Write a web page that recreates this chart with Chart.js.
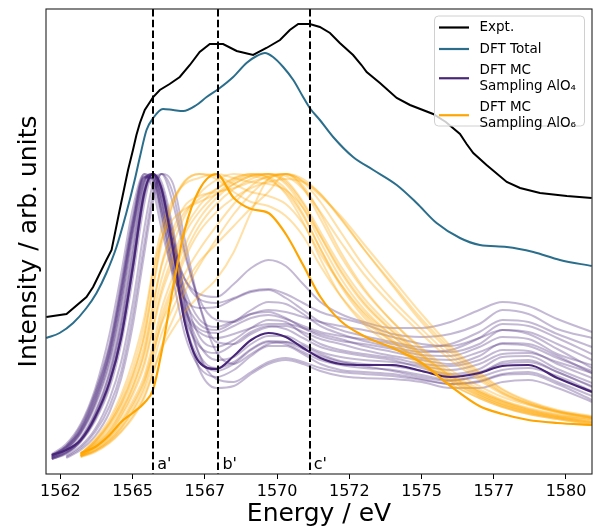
<!DOCTYPE html>
<html><head><meta charset="utf-8">
<script src="https://cdn.jsdelivr.net/npm/chart.js@4.4.1/dist/chart.umd.min.js"></script>
<style>html,body{margin:0;padding:0;background:#fff;}canvas{display:block;}</style>
</head><body>
<canvas id="c" width="594" height="529"></canvas>
<script>
// ---------- data ----------
const TICK_VALUES = [1562.5, 1565, 1567.5, 1570, 1572.5, 1575, 1577.5, 1580];
const TICK_LABELS = ['1562', '1565', '1567', '1570', '1572', '1575', '1577', '1580'];
const MARK_E = [1565.71, 1567.97, 1571.13];
const MARK_LABELS = ["a'", "b'", "c'"];

const EXPT_E = [1562.01,1562.71,1563.40,1563.63,1564.09,1564.27,1564.55,1564.84,1565.01,1565.13,1565.25,1565.42,1565.71,1565.94,1566.28,1566.63,1566.98,1567.32,1567.67,1568.13,1568.60,1569.17,1569.63,1570.10,1570.44,1570.73,1571.13,1571.48,1571.83,1572.17,1572.63,1572.92,1573.10,1573.56,1574.14,1574.60,1575.40,1575.84,1576.33,1576.56,1576.79,1577.25,1577.95,1578.41,1579.10,1580.03,1580.89];
const EXPT_I = [1.57,1.60,1.77,1.87,2.14,2.24,2.64,3.04,3.24,3.39,3.51,3.64,3.77,3.84,3.90,3.97,4.09,4.22,4.30,4.30,4.23,4.19,4.26,4.34,4.44,4.50,4.50,4.47,4.41,4.31,4.19,4.09,4.02,3.91,3.76,3.69,3.60,3.52,3.40,3.30,3.21,3.09,2.92,2.86,2.81,2.78,2.76];

const DFT_E = [1562.01,1562.47,1562.94,1563.40,1563.75,1564.09,1564.44,1564.78,1565.07,1565.25,1565.48,1565.71,1566.05,1566.40,1566.75,1567.21,1567.56,1567.97,1568.48,1568.94,1569.29,1569.58,1569.86,1570.21,1570.56,1570.90,1571.13,1571.48,1571.94,1572.63,1573.33,1574.14,1574.83,1575.52,1576.33,1577.02,1577.95,1578.87,1579.79,1580.89];
const DFT_I = [1.36,1.41,1.51,1.66,1.81,2.01,2.27,2.61,2.94,3.17,3.44,3.56,3.65,3.64,3.63,3.69,3.77,3.85,3.97,4.11,4.18,4.21,4.17,4.07,3.94,3.77,3.66,3.54,3.37,3.17,3.04,2.89,2.71,2.51,2.36,2.29,2.27,2.22,2.14,2.08];

// energy grid shared by the MC sampling spectra
const GRID_E = [1562.2,1562.7,1563.2,1563.7,1564.2,1564.6,1565.0,1565.4,1565.7,1566.0,1566.4,1566.8,1567.3,1567.9,1568.5,1569.1,1569.7,1570.3,1570.9,1571.5,1572.2,1573.0,1574.0,1575.0,1576.0,1577.0,1577.8,1578.7,1579.7,1580.9];

const ALO4_MAIN = [0.19,0.24,0.34,0.57,0.92,1.36,2.06,2.81,3.00,2.85,2.24,1.52,1.12,1.05,1.18,1.34,1.41,1.37,1.26,1.16,1.10,1.09,1.09,1.03,0.97,1.01,1.08,1.09,0.96,0.82];
const ALO4_SAMPLES = [
 [0.18,0.28,0.48,0.82,1.30,1.90,2.55,2.98,2.95,2.65,2.25,1.95,1.80,1.77,1.90,2.06,2.14,2.08,1.90,1.72,1.60,1.52,1.46,1.46,1.52,1.64,1.72,1.68,1.55,1.42],
 [0.17,0.25,0.42,0.72,1.18,1.75,2.45,2.95,3.00,2.75,2.30,1.95,1.75,1.71,1.76,1.83,1.85,1.80,1.71,1.62,1.56,1.50,1.40,1.37,1.40,1.50,1.64,1.60,1.45,1.36],
 [0.20,0.30,0.50,0.85,1.40,2.00,2.65,3.00,2.85,2.45,2.00,1.75,1.66,1.67,1.75,1.82,1.84,1.76,1.64,1.52,1.44,1.38,1.32,1.27,1.30,1.42,1.54,1.52,1.40,1.27],
 [null,0.18,0.28,0.45,0.75,1.12,1.70,2.45,2.90,3.00,2.70,2.20,1.75,1.54,1.52,1.60,1.64,1.62,1.57,1.52,1.48,1.44,1.37,1.30,1.28,1.36,1.44,1.42,1.30,1.14],
 [0.16,0.22,0.35,0.60,1.00,1.50,2.20,2.88,3.00,2.80,2.35,1.85,1.55,1.47,1.53,1.60,1.62,1.56,1.46,1.38,1.33,1.30,1.25,1.19,1.18,1.27,1.37,1.35,1.20,1.09],
 [0.19,0.27,0.45,0.78,1.25,1.85,2.50,2.97,2.95,2.60,2.05,1.65,1.45,1.41,1.48,1.56,1.59,1.55,1.48,1.42,1.38,1.35,1.30,1.24,1.22,1.30,1.44,1.40,1.25,1.06],
 [null,0.17,0.26,0.42,0.68,1.02,1.58,2.30,2.80,3.00,2.80,2.25,1.70,1.32,1.30,1.40,1.47,1.48,1.42,1.35,1.30,1.24,1.18,1.14,1.10,1.18,1.31,1.30,1.18,1.01],
 [0.15,0.21,0.33,0.55,0.90,1.38,2.05,2.78,3.00,2.88,2.40,1.80,1.38,1.27,1.34,1.46,1.54,1.52,1.40,1.30,1.24,1.20,1.16,1.10,1.08,1.14,1.24,1.23,1.10,0.96],
 [0.18,0.26,0.43,0.74,1.20,1.80,2.48,2.97,2.97,2.68,2.10,1.58,1.28,1.21,1.30,1.42,1.48,1.45,1.36,1.27,1.22,1.18,1.14,1.06,1.00,1.05,1.17,1.18,1.05,0.91],
 [0.16,0.23,0.36,0.62,1.02,1.55,2.25,2.90,3.00,2.82,2.30,1.70,1.30,1.14,1.17,1.30,1.38,1.38,1.30,1.22,1.17,1.14,1.12,1.08,1.04,1.10,1.20,1.21,1.12,1.01],
 [null,0.16,0.24,0.38,0.62,0.95,1.48,2.20,2.72,3.00,2.90,2.35,1.70,1.22,1.10,1.20,1.30,1.32,1.28,1.20,1.13,1.10,1.08,1.03,0.98,1.02,1.10,1.12,1.02,0.87],
 [0.17,0.24,0.40,0.68,1.10,1.65,2.35,2.93,3.00,2.75,2.15,1.52,1.15,1.03,1.10,1.24,1.32,1.30,1.22,1.14,1.09,1.06,1.04,0.99,0.94,0.97,1.04,1.06,0.98,0.83],
 [0.19,0.28,0.46,0.80,1.28,1.88,2.55,3.00,2.92,2.55,1.95,1.40,1.07,0.97,1.04,1.18,1.28,1.28,1.20,1.10,1.04,1.02,1.00,0.95,0.90,0.93,1.00,1.02,0.92,0.78],
 [0.15,0.20,0.32,0.53,0.86,1.30,1.95,2.70,3.00,2.92,2.45,1.75,1.20,0.95,0.92,1.02,1.12,1.16,1.12,1.06,1.02,1.00,0.98,0.94,0.90,0.92,0.99,1.00,0.90,0.74],
 [0.16,0.22,0.34,0.58,0.95,1.45,2.12,2.82,3.00,2.85,2.30,1.58,1.05,0.86,0.88,1.00,1.10,1.14,1.10,1.03,0.98,0.96,0.95,0.92,0.86,0.86,0.92,0.94,0.86,0.72],
 [0.18,0.27,0.44,0.76,1.22,1.80,2.45,2.96,2.96,2.62,2.05,1.62,1.42,1.36,1.40,1.46,1.50,1.50,1.46,1.40,1.35,1.28,1.22,1.16,1.14,1.22,1.30,1.28,1.16,1.03],
 [0.17,0.25,0.41,0.70,1.14,1.70,2.40,2.94,3.00,2.72,2.20,1.75,1.50,1.44,1.52,1.64,1.72,1.70,1.60,1.48,1.40,1.33,1.27,1.22,1.24,1.36,1.50,1.48,1.36,1.20],
 [0.15,0.21,0.33,0.56,0.92,1.40,2.08,2.80,3.00,2.86,2.35,1.68,1.20,1.06,1.12,1.25,1.33,1.32,1.25,1.18,1.12,1.08,1.03,0.97,0.93,1.00,1.12,1.14,1.02,0.88]
];

const ALO6_MAIN = [null,null,0.21,0.27,0.39,0.52,0.61,0.71,0.84,1.22,1.87,2.44,2.84,3.00,2.76,2.65,2.61,2.40,2.09,1.77,1.53,1.38,1.26,1.11,0.88,0.68,0.60,0.54,0.51,0.49];
const ALO6_SAMPLES = [
 [null,null,0.19,0.32,0.50,0.70,0.98,1.38,1.85,2.30,2.70,2.92,3.00,2.98,2.90,2.82,2.78,2.70,2.50,2.20,1.90,1.62,1.38,1.18,0.98,0.82,0.72,0.64,0.58,0.54],
 [null,null,0.18,0.26,0.38,0.53,0.73,0.98,1.30,1.65,1.98,2.28,2.55,2.76,2.90,2.98,3.00,2.92,2.70,2.38,2.02,1.70,1.42,1.18,0.96,0.80,0.70,0.62,0.56,0.51],
 [null,null,0.20,0.33,0.52,0.75,1.05,1.48,2.00,2.35,2.55,2.65,2.72,2.80,2.90,2.98,3.00,2.94,2.72,2.42,2.08,1.76,1.46,1.20,0.98,0.82,0.72,0.64,0.58,0.53],
 [null,null,0.17,0.22,0.31,0.42,0.56,0.76,1.00,1.28,1.55,1.82,2.08,2.35,2.60,2.80,2.95,3.00,2.95,2.80,2.55,2.25,1.90,1.55,1.25,1.00,0.84,0.72,0.63,0.56],
 [null,null,0.18,0.24,0.34,0.46,0.62,0.84,1.10,1.40,1.66,1.90,2.12,2.30,2.48,2.66,2.82,3.00,2.93,2.78,2.58,2.30,1.95,1.60,1.28,1.02,0.85,0.73,0.64,0.58],
 [null,null,0.19,0.29,0.42,0.59,0.82,1.12,1.48,1.85,2.18,2.45,2.68,2.85,2.96,3.00,2.97,2.85,2.60,2.25,1.88,1.57,1.32,1.10,0.90,0.76,0.67,0.60,0.55,0.50],
 [null,null,0.20,0.35,0.55,0.79,1.12,1.56,2.04,2.45,2.75,2.90,2.96,3.00,2.96,2.92,2.90,2.84,2.66,2.38,2.04,1.72,1.43,1.20,0.99,0.83,0.73,0.65,0.59,0.55],
 [null,null,0.18,0.23,0.32,0.43,0.58,0.78,1.02,1.25,1.45,1.62,1.78,1.95,2.22,2.62,2.95,3.00,2.86,2.55,2.18,1.84,1.52,1.26,1.04,0.88,0.77,0.69,0.62,0.57],
 [null,null,0.19,0.30,0.45,0.63,0.87,1.20,1.58,1.95,2.30,2.58,2.80,2.94,3.00,2.98,2.94,2.82,2.58,2.25,1.90,1.60,1.34,1.12,0.93,0.78,0.69,0.62,0.57,0.52],
 [null,null,0.19,0.26,0.37,0.51,0.70,0.94,1.24,1.58,1.90,2.20,2.48,2.70,2.85,2.95,3.00,2.98,2.85,2.62,2.32,2.00,1.68,1.40,1.14,0.94,0.80,0.70,0.62,0.56],
 [null,null,0.18,0.28,0.43,0.62,0.87,1.22,1.66,2.10,2.45,2.68,2.78,2.82,2.86,2.92,2.97,3.00,2.88,2.60,2.22,1.86,1.52,1.24,1.01,0.85,0.74,0.66,0.60,0.55],
 [null,null,0.17,0.23,0.33,0.46,0.64,0.88,1.18,1.52,1.85,2.15,2.42,2.62,2.76,2.86,2.92,2.95,2.92,2.80,2.56,2.25,1.88,1.52,1.22,0.98,0.82,0.71,0.63,0.57],
 [null,null,0.20,0.31,0.48,0.67,0.93,1.28,1.70,2.08,2.40,2.62,2.75,2.85,2.95,3.00,2.96,2.80,2.52,2.15,1.78,1.50,1.28,1.08,0.90,0.76,0.67,0.60,0.55,0.49],
 [null,null,0.18,0.27,0.40,0.57,0.79,1.08,1.44,1.80,2.12,2.40,2.62,2.80,2.93,2.99,3.00,2.90,2.66,2.32,1.96,1.65,1.38,1.15,0.95,0.80,0.70,0.63,0.57,0.52],
 [null,null,0.18,0.24,0.35,0.49,0.68,0.92,1.20,1.50,1.76,2.00,2.24,2.48,2.70,2.88,2.98,3.00,2.92,2.72,2.42,2.08,1.74,1.45,1.18,0.96,0.81,0.70,0.62,0.56],
 [null,null,0.20,0.33,0.51,0.71,0.99,1.38,1.88,2.35,2.72,2.93,3.00,2.95,2.82,2.72,2.68,2.58,2.38,2.08,1.78,1.53,1.32,1.12,0.93,0.78,0.68,0.61,0.56,0.51]
];

const LEGEND_LABELS = [['Expt.'], ['DFT Total'], ['DFT MC', 'Sampling AlO\u2084'], ['DFT MC', 'Sampling AlO\u2086']];

// ---------- styling ----------
const FONT = 'DejaVu Sans';
const C_EXPT = '#000000';
const C_DFT = 'rgb(42,110,140)';
const C_PURPLE = 'rgb(72,38,120)';
const C_PURPLE_F = 'rgba(72,38,120,0.32)';
const C_ORANGE = 'rgb(255,165,0)';
const C_ORANGE_F = 'rgba(255,165,0,0.35)';
const LEGEND_COLORS = [C_EXPT, C_DFT, C_PURPLE, C_ORANGE];

Chart.defaults.font.family = FONT;

function pts(xs, ys) { return xs.map((x, i) => ({x: x, y: ys[i]})); }

const datasets = [];
datasets.push({label: 'Expt.', data: pts(EXPT_E, EXPT_I), borderColor: C_EXPT, borderWidth: 2, tension: 0, order: 1});
datasets.push({label: 'DFT Total', data: pts(DFT_E, DFT_I), borderColor: C_DFT, borderWidth: 2, cubicInterpolationMode: 'monotone', order: 2});
datasets.push({label: 'AlO6 main', data: pts(GRID_E, ALO6_MAIN), borderColor: C_ORANGE, borderWidth: 2.2, cubicInterpolationMode: 'monotone', order: 3});
datasets.push({label: 'AlO4 main', data: pts(GRID_E, ALO4_MAIN), borderColor: C_PURPLE, borderWidth: 2.2, cubicInterpolationMode: 'monotone', order: 4});
ALO6_SAMPLES.forEach((s, i) => datasets.push({label: 'AlO6 ' + i, data: pts(GRID_E, s), borderColor: C_ORANGE_F, borderWidth: 2, cubicInterpolationMode: 'monotone', order: 5}));
ALO4_SAMPLES.forEach((s, i) => datasets.push({label: 'AlO4 ' + i, data: pts(GRID_E, s), borderColor: C_PURPLE_F, borderWidth: 2, cubicInterpolationMode: 'monotone', order: 6}));

const decor = {
  id: 'decor',
  afterDatasetsDraw(chart) {
    const ctx = chart.ctx, ca = chart.chartArea, xs = chart.scales.x;
    ctx.save();
    // vertical reference lines
    ctx.strokeStyle = '#000'; ctx.lineWidth = 2; ctx.setLineDash([7.5, 3.3]);
    MARK_E.forEach(e => {
      const px = Math.round(xs.getPixelForValue(e));
      ctx.beginPath(); ctx.moveTo(px, ca.top); ctx.lineTo(px, ca.bottom); ctx.stroke();
    });
    ctx.setLineDash([]);
    ctx.fillStyle = '#000'; ctx.font = '16px "' + FONT + '"';
    ctx.textBaseline = 'middle'; ctx.textAlign = 'left';
    MARK_E.forEach((e, i) => {
      const px = xs.getPixelForValue(e);
      ctx.fillText(MARK_LABELS[i], px + 4, ca.bottom - 9);
    });
    // frame
    ctx.strokeStyle = '#222'; ctx.lineWidth = 1.1;
    ctx.strokeRect(ca.left, ca.top, ca.right - ca.left, ca.bottom - ca.top);
    // legend
    const bx = ca.right - 157.5, by = ca.top + 7, bw = 150, bh = 110;
    ctx.beginPath();
    ctx.roundRect(bx, by, bw, bh, 4);
    ctx.fillStyle = 'rgba(255,255,255,0.8)'; ctx.fill();
    ctx.strokeStyle = '#d0d0d0'; ctx.lineWidth = 1; ctx.stroke();
    ctx.font = '13.5px "' + FONT + '"';
    ctx.textBaseline = 'middle';
    const lh = 15.5;
    let y = by + 11.5;
    LEGEND_LABELS.forEach((lines, i) => {
      const n = lines.length;
      const midY = y + (n - 1) * lh / 2;
      ctx.strokeStyle = LEGEND_COLORS[i]; ctx.lineWidth = 2.2;
      ctx.beginPath(); ctx.moveTo(bx + 4.5, midY); ctx.lineTo(bx + 34.5, midY); ctx.stroke();
      ctx.fillStyle = '#000';
      lines.forEach((t, k) => ctx.fillText(t, bx + 45, y + k * lh));
      y += n * lh + 6;
    });
    ctx.restore();
  }
};

new Chart(document.getElementById('c'), {
  type: 'line',
  data: {datasets: datasets},
  options: {
    responsive: false,
    animation: false,
    devicePixelRatio: 1,
    layout: {padding: {top: 9, right: 2, left: 0, bottom: 0}},
    elements: {point: {radius: 0}, line: {fill: false}},
    plugins: {legend: {display: false}, tooltip: {enabled: false}},
    scales: {
      x: {
        type: 'linear', min: 1562.0, max: 1580.9,
        afterFit: s => { s.height = 55; },
        afterBuildTicks: s => { s.ticks = TICK_VALUES.map(v => ({value: v})); },
        border: {display: false},
        grid: {display: true, drawOnChartArea: false, drawTicks: true, tickLength: 5, tickColor: '#000', tickWidth: 1},
        ticks: {color: '#000', font: {size: 16}, padding: 3, maxRotation: 0, autoSkip: false,
          callback: (v, i) => TICK_LABELS[i]},
        title: {display: true, text: 'Energy / eV', color: '#000', font: {size: 25}, padding: {top: 0, bottom: 0}}
      },
      y: {
        min: 0, max: 4.65,
        afterFit: s => { s.width = 46; },
        border: {display: false},
        grid: {display: false},
        ticks: {display: false},
        title: {display: true, text: 'Intensity / arb. units', color: '#000', font: {size: 25}, padding: {top: 14, bottom: 0}}
      }
    }
  },
  plugins: [decor]
});
</script>
</body></html>
